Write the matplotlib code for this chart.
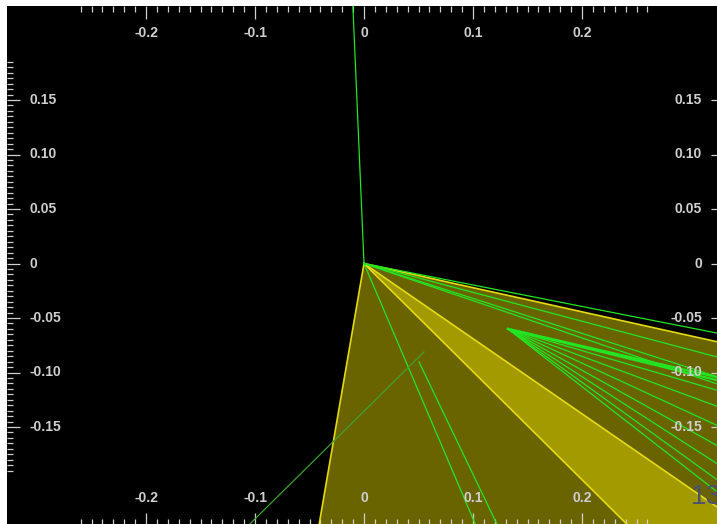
# plot.py
# 광선 추적 화면(검은 배경, 노란 영역, 녹색 광선)을 재현한다.

import matplotlib
matplotlib.use("Agg")
import matplotlib.pyplot as plt
import matplotlib.transforms as mtransforms
import numpy as np

matplotlib.rcParams["font.family"] = ["Liberation Sans", "DejaVu Sans"]

# 눈금과 라벨
x_major = [-0.2, -0.1, 0.0, 0.1, 0.2]
x_labels = ["-0.2", "-0.1", "0", "0.1", "0.2"]
y_major = [0.15, 0.10, 0.05, 0.0, -0.05, -0.10, -0.15]
y_labels = ["0.15", "0.10", "0.05", "0", "-0.05", "-0.10", "-0.15"]
x_minor = np.round(np.arange(-0.26, 0.2601, 0.01), 3)
y_minor = np.round(np.arange(-0.19, 0.1851, 0.005), 3)

# 노란 영역 두 개 (겹치는 곳이 밝은 띠)
wedge_a_x = [0.0, -0.086, 0.725]
wedge_a_y = [0.0, -0.5, -0.5]
wedge_b_x = [0.0, 0.6, 0.6]
wedge_b_y = [0.0, -0.595, -0.133]

# 원점에서 나가는 광선 끝점
ray_end_x = [-0.0108, 0.34, 0.34, 0.34, 0.34, 0.111]
ray_end_y = [0.25, -0.067, -0.090, -0.109, -0.116, -0.26]

# 두 번째 부채꼴 광선
fan_x0, fan_y0 = 0.132, -0.060
fan_end_x = [0.34, 0.34, 0.34, 0.34, 0.34, 0.34, 0.34, 0.34, 0.34]
fan_end_y = [-0.108, -0.111, -0.121, -0.137, -0.156, -0.176, -0.194, -0.210, -0.222]

# 따로 떨어진 선분
seg_bright = ([0.0505, 0.132], [-0.0904, -0.26])
seg_dull = ([0.055, -0.126], [-0.0812, -0.26])

YELLOW_FILL = (0.91, 0.86, 0.0, 0.46)
YELLOW_EDGE = "#e4da10"
GREEN = "#22e622"
TEXT = "#cfcfcf"

fig = plt.figure(figsize=(7.17, 5.24), dpi=100)
fig.patch.set_facecolor("white")
ax = fig.add_axes([7 / 717, -1 / 524, 716 / 717, 519 / 524])
ax.set_facecolor("black")
ax.set_xlim((7 - 364) / 1090, (723 - 364) / 1090)
ax.set_ylim((263.5 - 525) / 1090, (263.5 - 6) / 1090)
for spine in ax.spines.values():
    spine.set_visible(False)

ax.fill(wedge_a_x, wedge_a_y, facecolor=YELLOW_FILL, edgecolor="none", zorder=1)
ax.fill(wedge_b_x, wedge_b_y, facecolor=YELLOW_FILL, edgecolor="none", zorder=1)
ax.plot(wedge_a_x + wedge_a_x[:1], wedge_a_y + wedge_a_y[:1], color=YELLOW_EDGE, linewidth=1.2, zorder=2)
ax.plot(wedge_b_x + wedge_b_x[:1], wedge_b_y + wedge_b_y[:1], color=YELLOW_EDGE, linewidth=1.2, zorder=2)

for ex, ey in zip(ray_end_x, ray_end_y):
    ax.plot([0.0, ex], [0.0, ey], color=GREEN, linewidth=0.9, zorder=3)
for i, (ex, ey) in enumerate(zip(fan_end_x, fan_end_y)):
    lw = 1.6 if i < 2 else 0.9
    ax.plot([fan_x0, ex], [fan_y0, ey], color=GREEN, linewidth=lw, zorder=3)
ax.plot(*seg_bright, color=GREEN, linewidth=0.9, zorder=3)
ax.plot(*seg_dull, color="#3fa032", linewidth=0.9, zorder=3)

# 눈금 (안쪽 방향, 네 변 모두)
ax.set_xticks(x_major)
ax.set_xticks(x_minor, minor=True)
ax.set_yticks(y_major)
ax.set_yticks(y_minor, minor=True)
ax.tick_params(axis="both", which="both", direction="in", top=True, bottom=True,
               left=True, right=True, labelbottom=False, labelleft=False,
               colors=TEXT, width=0.9)
ax.tick_params(which="major", length=9)
ax.tick_params(which="minor", length=4.5)

# 라벨은 축 안쪽에 직접 배치
bx = mtransforms.blended_transform_factory(ax.transData, ax.transAxes)
by = mtransforms.blended_transform_factory(ax.transAxes, ax.transData)
top_t = mtransforms.offset_copy(bx, fig=fig, y=-27, units="dots")
bot_t = mtransforms.offset_copy(bx, fig=fig, y=27, units="dots")
left_t = mtransforms.offset_copy(by, fig=fig, x=22, units="dots")
right_t = mtransforms.offset_copy(by, fig=fig, x=-21, units="dots")

for xv, lab in zip(x_major, x_labels):
    ax.text(xv, 1.0, lab, transform=top_t, ha="center", va="center",
            fontsize=10, fontweight="bold", color=TEXT, zorder=5)
    ax.text(xv, 0.0, lab, transform=bot_t, ha="center", va="center",
            fontsize=10, fontweight="bold", color=TEXT, zorder=5)
for yv, lab in zip(y_major, y_labels):
    ax.text(0.0, yv, lab, transform=left_t, ha="left", va="center",
            fontsize=10, fontweight="bold", color=TEXT, zorder=5)
    ax.text(1.0, yv, lab, transform=right_t, ha="right", va="center",
            fontsize=10, fontweight="bold", color=TEXT, zorder=5)

ax.text(0.300, -0.214, "13", ha="left", va="center", fontsize=20,
        color="#4a5070", zorder=5)

fig.savefig("out.png", dpi=100)
plt.close(fig)
